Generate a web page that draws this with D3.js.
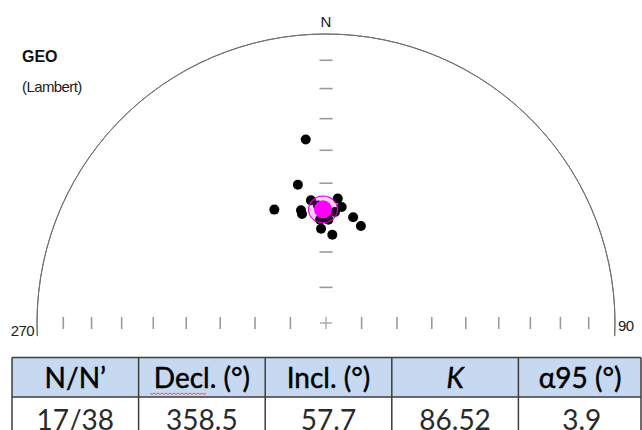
<!DOCTYPE html>
<html>
<head>
<meta charset="utf-8">
<script src="https://cdn.jsdelivr.net/npm/d3@7"></script>
<style>
  html, body { margin: 0; padding: 0; background: #fff; }
  svg { display: block; }
</style>
</head>
<body>
<svg id="chart" width="642" height="430"></svg>
<script>
// Site-mean directions (declination, inclination in degrees), geographic coordinates
const siteDec = [353.7, 348.5, 335.5, 347.5, 347.6, 353.0, 5.4, 7.7, 4.6, 14.4, 19.8, 356.7, 1.3, 357.0, 4.1, 356.1, 0.0];
const siteInc = [36.3, 49.6, 54.5, 57.2, 58.3, 54.8, 54.4, 56.7, 58.4, 59.0, 60.8, 60.7, 60.7, 63.3, 65.0, 56.5, 58.6];

// Fisher mean and statistics
const meanDec = 358.5;
const meanInc = 57.7;
const alpha95 = 3.9;

// Inclination graticule ticks along the N–S and E–W axes
const incTicks = [10, 20, 30, 40, 50, 60, 70, 80];

// Summary table
const tableHeaders = ["N/N\u2019", "Decl. (\u00B0)", "Incl. (\u00B0)", "K", "\u03B195 (\u00B0)"];
const tableValues = ["17/38", "358.5", "57.7", "86.52", "3.9"];

const svg = d3.select("#chart");
const cx = 326, cy = 323, R = 289;
const rad = Math.PI / 180;

// Lambert equal-area: normalised distance from centre for a given inclination
const eqArea = inc => Math.SQRT2 * Math.sin((90 - Math.abs(inc)) / 2 * rad);
const rScale = d3.scaleLinear().domain([0, 1]).range([0, R]);

function proj(dec, inc) {
  const r = rScale(eqArea(inc));
  return [cx + r * Math.sin(dec * rad), cy - r * Math.cos(dec * rad)];
}

// Primitive circle (upper half, running slightly past the horizontal)
const arcOver = 2.6;
const arc = d3.arc()
  .innerRadius(R).outerRadius(R)
  .startAngle(-(90 + arcOver) * rad).endAngle((90 + arcOver) * rad);
svg.append("path")
  .attr("d", arc())
  .attr("transform", `translate(${cx},${cy})`)
  .attr("fill", "none")
  .attr("stroke", "#6e6e6e")
  .attr("stroke-width", 1);

// Ticks along the E–W axis
const tickCol = "#9a9a9a";
const gx = svg.append("g");
incTicks.forEach(inc => {
  [90, 270].forEach(dec => {
    const [x, y] = proj(dec, inc);
    gx.append("line")
      .attr("x1", x).attr("x2", x)
      .attr("y1", y - 6).attr("y2", y + 6)
      .attr("stroke", tickCol).attr("stroke-width", 1.6);
  });
  // Ticks along the N axis
  const [x, y] = proj(0, inc);
  gx.append("line")
    .attr("x1", x - 6.5).attr("x2", x + 6.5)
    .attr("y1", y).attr("y2", y)
    .attr("stroke", tickCol).attr("stroke-width", 1.6);
});
// Centre cross
gx.append("line").attr("x1", cx - 6).attr("x2", cx + 6).attr("y1", cy).attr("y2", cy)
  .attr("stroke", tickCol).attr("stroke-width", 1.2);
gx.append("line").attr("x1", cx).attr("x2", cx).attr("y1", cy - 6).attr("y2", cy + 6)
  .attr("stroke", tickCol).attr("stroke-width", 1.2);

// Axis labels
const lab = svg.append("g").attr("font-family", "Liberation Sans, Arial, sans-serif").attr("fill", "#222");
lab.append("text").attr("x", cx).attr("y", 27).attr("text-anchor", "middle")
  .attr("font-size", 15).text("N");
lab.append("text").attr("x", 34).attr("y", 336).attr("text-anchor", "end")
  .attr("font-size", 15).attr("letter-spacing", -0.6).text("270");
lab.append("text").attr("x", 618).attr("y", 331).attr("text-anchor", "start")
  .attr("font-size", 15).attr("letter-spacing", -0.6).text("90");
lab.append("text").attr("x", 22).attr("y", 62).attr("font-size", 16)
  .attr("font-weight", "bold").attr("fill", "#111").text("GEO");
lab.append("text").attr("x", 22).attr("y", 92).attr("font-size", 15)
  .attr("letter-spacing", -0.6).text("(Lambert)");

// Site directions
svg.append("g").selectAll("circle")
  .data(d3.range(siteDec.length))
  .join("circle")
  .attr("cx", i => proj(siteDec[i], siteInc[i])[0])
  .attr("cy", i => proj(siteDec[i], siteInc[i])[1])
  .attr("r", 5)
  .attr("fill", "#000");

// α95 confidence cone around the mean
const cone = d3.geoCircle().center([meanDec, meanInc]).radius(alpha95).precision(3)();
const ring = cone.coordinates[0].map(([d, i]) => proj(d, i));
svg.append("path")
  .attr("d", d3.line()(ring) + "Z")
  .attr("fill", "#ff00ff").attr("fill-opacity", 0.18)
  .attr("stroke", "#e000e0").attr("stroke-width", 1.1);

// Mean direction
const [mx, my] = proj(meanDec, meanInc);
svg.append("circle").attr("cx", mx).attr("cy", my).attr("r", 9).attr("fill", "#ff00ff");

// Summary table
const col = d3.scaleBand().domain(d3.range(tableHeaders.length)).range([12, 645]);
const tableTop = 357.5, headH = 39.5, rowH = 45;
const tbl = svg.append("g");
tbl.append("rect").attr("x", 12).attr("y", tableTop).attr("width", 641 - 12).attr("height", headH)
  .attr("fill", "#c6d9f1");
const border = "#3c3c3c";
tbl.append("line").attr("x1", 12).attr("x2", 641).attr("y1", tableTop).attr("y2", tableTop)
  .attr("stroke", border).attr("stroke-width", 1.5);
tbl.append("line").attr("x1", 12).attr("x2", 641).attr("y1", tableTop + headH).attr("y2", tableTop + headH)
  .attr("stroke", border).attr("stroke-width", 1.5);
const edges = d3.range(tableHeaders.length).map(i => col(i)).concat([641]);
edges.forEach(x => {
  tbl.append("line").attr("x1", x).attr("x2", x).attr("y1", tableTop).attr("y2", tableTop + headH + rowH)
    .attr("stroke", border).attr("stroke-width", 1.5);
});
tbl.selectAll("text.h").data(tableHeaders).join("text")
  .attr("class", "h")
  .attr("x", (d, i) => col(i) + col.bandwidth() / 2 - (i === 4 ? 1.5 : 0))
  .attr("y", tableTop + 30.5)
  .attr("text-anchor", "middle")
  .attr("font-family", "Lato, sans-serif")
  .attr("font-size", 28)
  .attr("font-style", (d, i) => i === 3 ? "italic" : "normal")
  .attr("fill", "#000")
  .attr("stroke", "#000").attr("stroke-width", 0.45)
  .text(d => d);
tbl.selectAll("text.v").data(tableValues).join("text")
  .attr("class", "v")
  .attr("x", (d, i) => col(i) + col.bandwidth() / 2)
  .attr("y", tableTop + headH + 33)
  .attr("text-anchor", "middle")
  .attr("font-family", "Lato, sans-serif")
  .attr("font-size", 28)
  .attr("fill", "#2a2a2a")
  .text(d => d);

// Spell-check squiggle under "Decl"
const sq = d3.range(0, 57, 2).map((d, k) => [150 + d, 393.5 + (k % 2 ? 1 : -0.5)]);
tbl.append("path").attr("d", d3.line()(sq)).attr("fill", "none")
  .attr("stroke", "#e04040").attr("stroke-width", 0.8);
</script>
</body>
</html>
